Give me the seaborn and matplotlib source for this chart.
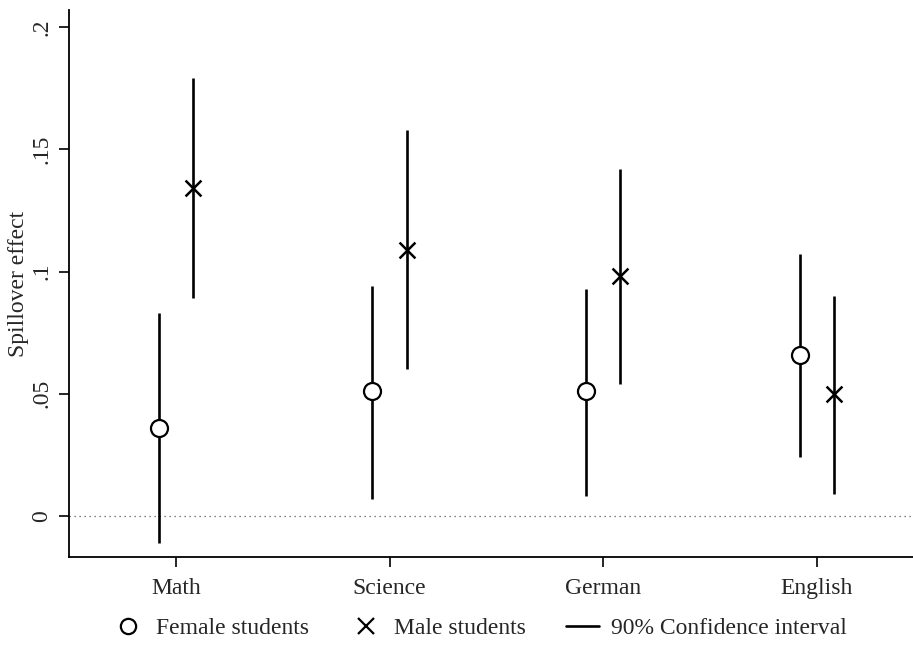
import numpy as np
import pandas as pd
import seaborn as sns
import matplotlib
matplotlib.use("Agg")
from matplotlib import pyplot as plt
from matplotlib.lines import Line2D

# values
subjects = ["Math", "Science", "German", "English"]
female_est = [0.036, 0.051, 0.051, 0.066]
female_lo = [-0.011, 0.007, 0.008, 0.024]
female_hi = [0.083, 0.094, 0.093, 0.107]
male_est = [0.134, 0.109, 0.098, 0.050]
male_lo = [0.089, 0.060, 0.054, 0.009]
male_hi = [0.179, 0.158, 0.142, 0.090]
y_ticks = [0, 0.05, 0.1, 0.15, 0.2]
y_ticklabels = ["0", ".05", ".1", ".15", ".2"]

sns.set_theme(style="ticks")
plt.rcParams["font.family"] = ["Liberation Serif", "DejaVu Serif"]
plt.rcParams["font.size"] = 17

OFFSET = 0.08
idx = np.arange(len(subjects))
df = pd.concat([
    pd.DataFrame({"pos": idx - OFFSET, "est": female_est, "lo": female_lo,
                  "hi": female_hi, "group": "Female students"}),
    pd.DataFrame({"pos": idx + OFFSET, "est": male_est, "lo": male_lo,
                  "hi": male_hi, "group": "Male students"}),
])

fig = plt.figure(figsize=(9.13, 6.51), dpi=100)
ax = fig.add_axes([0.0756, 0.1444, 0.9244, 0.8402])

ax.axhline(0, color="#555555", linestyle=(0, (1, 3)), linewidth=0.9, zorder=1)
ax.vlines(df["pos"], df["lo"], df["hi"], color="black", linewidth=1.9, zorder=2)

fem = df[df.group == "Female students"]
mal = df[df.group == "Male students"]
sns.scatterplot(data=fem, x="pos", y="est", marker="o", s=150,
                facecolors="white", edgecolor="black", linewidth=1.6,
                ax=ax, zorder=3, legend=False)
sns.scatterplot(data=mal, x="pos", y="est", marker="x", s=130,
                color="black", linewidth=1.8, ax=ax, zorder=3, legend=False)

ax.set_xlim(-0.5, 3.45)
ax.set_ylim(-0.0168, 0.207)
ax.set_xticks(idx)
ax.set_xticklabels(subjects, fontsize=17)
ax.set_yticks(y_ticks)
ax.set_yticklabels(y_ticklabels, rotation=90, va="center", fontsize=17)
ax.tick_params(axis="x", length=7, width=1.2, color="black", pad=8)
ax.tick_params(axis="y", length=7, width=1.2, color="black", pad=5)
ax.set_xlabel("")
ax.set_ylabel("Spillover effect", fontsize=17)
ax.yaxis.set_label_coords(-0.047, 0.5)

sns.despine(ax=ax)
for s in ["left", "bottom"]:
    ax.spines[s].set_linewidth(1.3)
    ax.spines[s].set_color("black")

handles = [
    Line2D([], [], marker="o", linestyle="none", markerfacecolor="white",
           markeredgecolor="black", markersize=11, markeredgewidth=1.6),
    Line2D([], [], marker="x", linestyle="none", color="black",
           markersize=12, markeredgewidth=1.6),
    Line2D([], [], color="black", linewidth=1.9),
]
labels = ["Female students", "Male students", "90% Confidence interval"]
fig.legend(handles, labels, loc="center", bbox_to_anchor=(0.525, 0.035),
           ncol=3, frameon=False, fontsize=17, handlelength=1.4,
           handletextpad=0.5, columnspacing=1.7)

fig.savefig("out.png", dpi=100)
